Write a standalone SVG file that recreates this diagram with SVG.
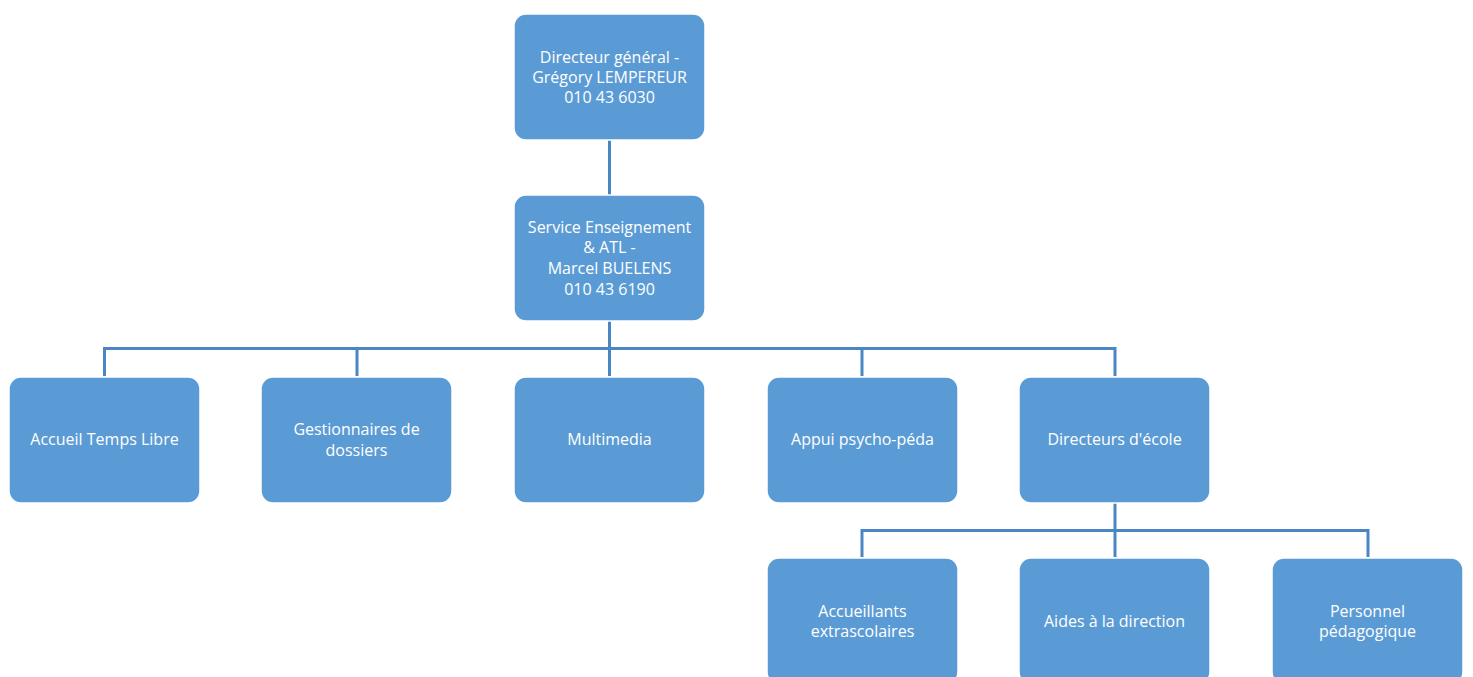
<svg xmlns="http://www.w3.org/2000/svg" width="1473" height="677" viewBox="0 0 1473 677">
<style>
.box{fill:#5B9BD5;stroke:#FFFFFF;stroke-width:1.5}
.lbl{fill:#FFFFFF;font-family:"Open Sans","Liberation Sans",sans-serif;font-size:16px;text-anchor:middle}
.con{stroke:#4A86C4;stroke-width:3;fill:none}
</style>
<rect width="1473" height="677" fill="#FFFFFF"/>
<g id="connectors">
<path class="con" d="M609.5 140V195"/>
<path class="con" d="M609.5 321V376"/>
<path class="con" d="M104.5 348.5H1115.5"/>
<path class="con" d="M104.5 347V376M357 347V376M862 347V376M1115 347V376"/>
<path class="con" d="M1115 502V557"/>
<path class="con" d="M862 530.5H1368"/>
<path class="con" d="M862 529V557M1368 529V557"/>
</g>
<g id="n_dg"><rect class="box" x="514" y="14" width="191" height="126" rx="12"/>
<text class="lbl" x="609.5" y="62.5">Directeur général -</text>
<text class="lbl" x="609.5" y="82.5">Grégory LEMPEREUR</text>
<text class="lbl" x="609.5" y="102.5">010 43 6030</text></g>
<g id="n_se"><rect class="box" x="514" y="195" width="191" height="126" rx="12"/>
<text class="lbl" x="609.5" y="232.5">Service Enseignement</text>
<text class="lbl" x="609.5" y="253">&amp; ATL -</text>
<text class="lbl" x="609.5" y="273.5">Marcel BUELENS</text>
<text class="lbl" x="609.5" y="294.5">010 43 6190</text></g>
<g id="n_atl"><rect class="box" x="9" y="377" width="191" height="126" rx="12"/>
<text class="lbl" x="104.5" y="444.5">Accueil Temps Libre</text></g>
<g id="n_gest"><rect class="box" x="261" y="377" width="191" height="126" rx="12"/>
<text class="lbl" x="356.5" y="434.5">Gestionnaires de</text>
<text class="lbl" x="356.5" y="455.5">dossiers</text></g>
<g id="n_multi"><rect class="box" x="514" y="377" width="191" height="126" rx="12"/>
<text class="lbl" x="609.5" y="444.5">Multimedia</text></g>
<g id="n_appui"><rect class="box" x="767" y="377" width="191" height="126" rx="12"/>
<text class="lbl" x="862.5" y="444.5">Appui psycho-péda</text></g>
<g id="n_dir"><rect class="box" x="1019" y="377" width="191" height="126" rx="12"/>
<text class="lbl" x="1114.5" y="444.5">Directeurs d'école</text></g>
<g id="n_acc"><rect class="box" x="767" y="558" width="191" height="126" rx="12"/>
<text class="lbl" x="862.5" y="616.5">Accueillants</text>
<text class="lbl" x="862.5" y="636.5">extrascolaires</text></g>
<g id="n_aides"><rect class="box" x="1019" y="558" width="191" height="126" rx="12"/>
<text class="lbl" x="1114.5" y="626.5">Aides à la direction</text></g>
<g id="n_perso"><rect class="box" x="1272" y="558" width="191" height="126" rx="12"/>
<text class="lbl" x="1367.5" y="616.5">Personnel</text>
<text class="lbl" x="1367.5" y="636.5">pédagogique</text></g>
</svg>
